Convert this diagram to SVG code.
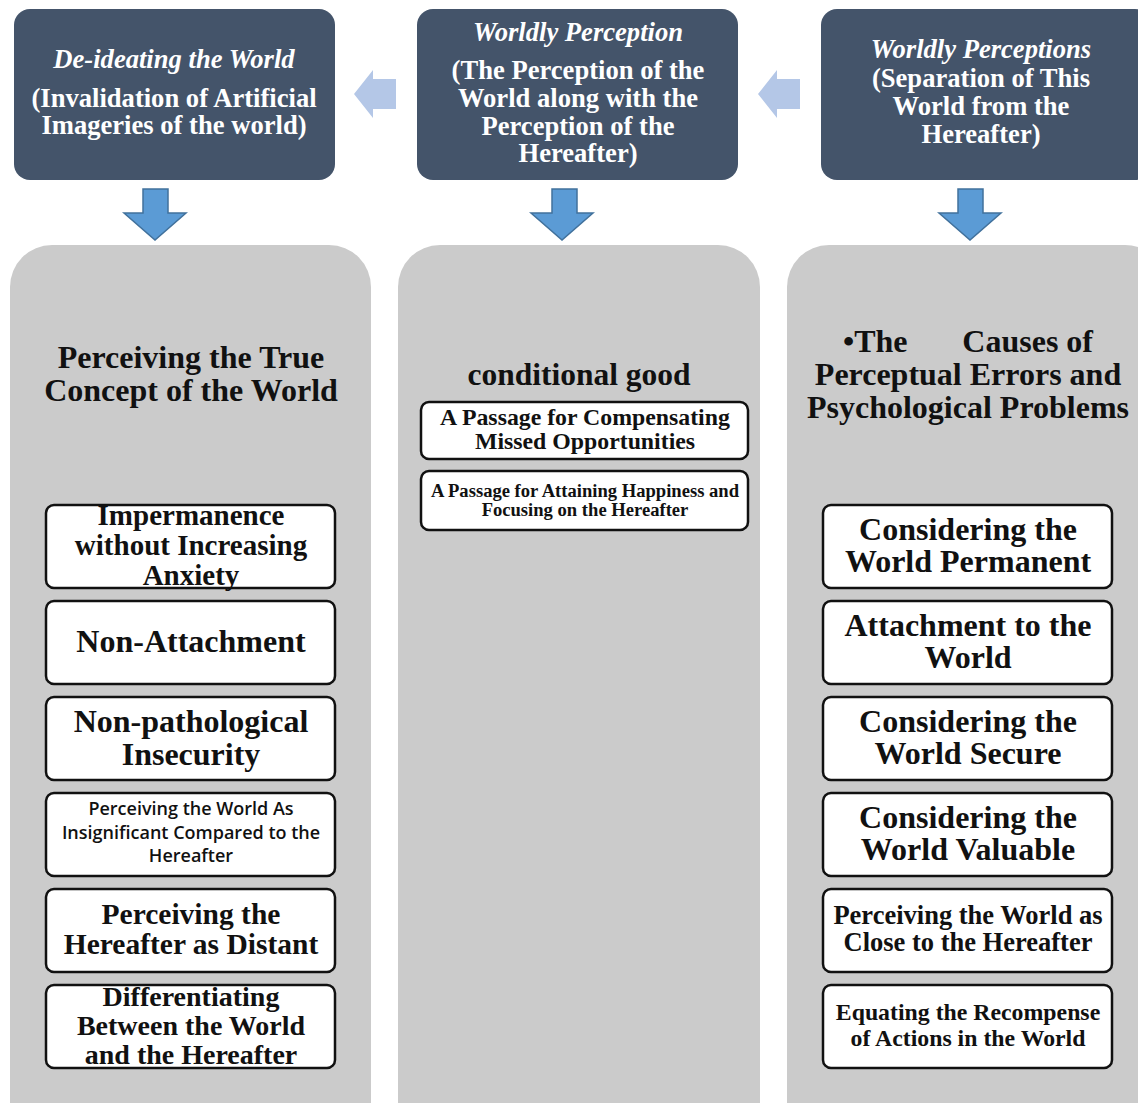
<svg xmlns="http://www.w3.org/2000/svg" width="1138" height="1103" viewBox="0 0 1138 1103">
<style>
.hdr{fill:#44546a}
.panel{fill:#cbcbcb}
.box{fill:#fff;stroke:#111;stroke-width:2.5}
.ht{font-family:"Liberation Serif",serif;font-weight:bold;fill:#fff;text-anchor:middle;font-size:26.6px}
.hi{font-style:italic}
.t{font-family:"Liberation Serif",serif;font-weight:bold;fill:#111;text-anchor:middle}
.s{font-family:"Open Sans","Liberation Sans",sans-serif;font-weight:600;fill:#111;text-anchor:middle}
.la{fill:#b4c7e7}
.da{fill:#5b9bd5;stroke:#41719c;stroke-width:1.5}
</style>
<rect width="1138" height="1103" fill="#fff"/>
<g id="header-1"><rect class="hdr" x="14" y="9" width="321" height="171" rx="16"/>
<text class="ht"><tspan class="hi" x="174" y="68">De-ideating the World</tspan><tspan x="174" y="107">(Invalidation of Artificial</tspan><tspan x="174" y="134">Imageries of the world)</tspan></text></g>
<g id="header-2"><rect class="hdr" x="417" y="9" width="321" height="171" rx="16"/>
<text class="ht"><tspan class="hi" x="578" y="41">Worldly Perception</tspan><tspan x="578" y="79">(The Perception of the</tspan><tspan x="578" y="107">World along with the</tspan><tspan x="578" y="135">Perception of the</tspan><tspan x="578" y="162">Hereafter)</tspan></text></g>
<g id="header-3"><rect class="hdr" x="821" y="9" width="330" height="171" rx="16"/>
<text class="ht"><tspan class="hi" x="981" y="58">Worldly Perceptions</tspan><tspan x="981" y="87">(Separation of This</tspan><tspan x="981" y="115">World from the</tspan><tspan x="981" y="143">Hereafter)</tspan></text></g>
<g id="connectors">
<polygon class="la" points="354,94 373,70 373,79 396,79 396,109 373,109 373,118"/>
<polygon class="la" points="758,94 777,70 777,79 800,79 800,109 777,109 777,118"/>
<polygon class="da" points="143,189 168,189 168,213 186,213 155,240 124,213 143,213"/>
<polygon class="da" points="552,189 577,189 577,213 593,213 562,240 531,213 552,213"/>
<polygon class="da" points="958,189 983,189 983,213 1001,213 970,240 939,213 958,213"/>
</g>
<g id="panel-left"><rect class="panel" x="10" y="245" width="361" height="900" rx="42"/>
<text class="t" font-size="32"><tspan x="191" y="368">Perceiving the True</tspan><tspan x="191" y="401">Concept of the World</tspan></text></g>
<g id="panel-middle"><rect class="panel" x="398" y="245" width="362" height="900" rx="42"/>
<text class="t" font-size="31.5" x="579" y="385">conditional good</text></g>
<g id="panel-right"><rect class="panel" x="787" y="245" width="380" height="900" rx="42"/>
<text class="t" font-size="32"><tspan x="843" y="352" text-anchor="start">•The</tspan><tspan x="1093" y="352" text-anchor="end">Causes of</tspan><tspan x="968" y="385">Perceptual Errors and</tspan><tspan x="968" y="418">Psychological Problems</tspan></text></g>
<g id="l1"><rect class="box" x="46" y="505" width="289" height="83" rx="8"/><text class="t" font-size="29"><tspan x="191" y="525">Impermanence</tspan><tspan x="191" y="555">without Increasing</tspan><tspan x="191" y="585">Anxiety</tspan></text></g>
<g id="l2"><rect class="box" x="46" y="601" width="289" height="83" rx="8"/><text class="t" font-size="32" x="191" y="652">Non-Attachment</text></g>
<g id="l3"><rect class="box" x="46" y="697" width="289" height="83" rx="8"/><text class="t" font-size="32"><tspan x="191" y="732">Non-pathological</tspan><tspan x="191" y="765">Insecurity</tspan></text></g>
<g id="l4"><rect class="box" x="46" y="793" width="289" height="83" rx="8"/><text class="s" font-size="18"><tspan x="191" y="815">Perceiving the World As</tspan><tspan x="191" y="839">Insignificant Compared to the</tspan><tspan x="191" y="862">Hereafter</tspan></text></g>
<g id="l5"><rect class="box" x="46" y="889" width="289" height="83" rx="8"/><text class="t" font-size="29.5"><tspan x="191" y="924">Perceiving the</tspan><tspan x="191" y="954">Hereafter as Distant</tspan></text></g>
<g id="l6"><rect class="box" x="46" y="985" width="289" height="83" rx="8"/><text class="t" font-size="28"><tspan x="191" y="1006">Differentiating</tspan><tspan x="191" y="1035">Between the World</tspan><tspan x="191" y="1064">and the Hereafter</tspan></text></g>
<g id="m1"><rect class="box" x="421" y="402" width="327" height="57" rx="8"/><text class="t" font-size="23.8"><tspan x="585" y="425">A Passage for Compensating</tspan><tspan x="585" y="449">Missed Opportunities</tspan></text></g>
<g id="m2"><rect class="box" x="421" y="471" width="327" height="59" rx="8"/><text class="t" font-size="18.6"><tspan x="585" y="497">A Passage for Attaining Happiness and</tspan><tspan x="585" y="516">Focusing on the Hereafter</tspan></text></g>
<g id="r1"><rect class="box" x="823" y="505" width="289" height="83" rx="8"/><text class="t" font-size="32"><tspan x="968" y="540">Considering the</tspan><tspan x="968" y="572">World Permanent</tspan></text></g>
<g id="r2"><rect class="box" x="823" y="601" width="289" height="83" rx="8"/><text class="t" font-size="32"><tspan x="968" y="636">Attachment to the</tspan><tspan x="968" y="668">World</tspan></text></g>
<g id="r3"><rect class="box" x="823" y="697" width="289" height="83" rx="8"/><text class="t" font-size="32"><tspan x="968" y="732">Considering the</tspan><tspan x="968" y="764">World Secure</tspan></text></g>
<g id="r4"><rect class="box" x="823" y="793" width="289" height="83" rx="8"/><text class="t" font-size="32"><tspan x="968" y="828">Considering the</tspan><tspan x="968" y="860">World Valuable</tspan></text></g>
<g id="r5"><rect class="box" x="823" y="889" width="289" height="83" rx="8"/><text class="t" font-size="26.5"><tspan x="968" y="924">Perceiving the World as</tspan><tspan x="968" y="951">Close to the Hereafter</tspan></text></g>
<g id="r6"><rect class="box" x="823" y="985" width="289" height="83" rx="8"/><text class="t" font-size="23.8"><tspan x="968" y="1020">Equating the Recompense</tspan><tspan x="968" y="1046">of Actions in the World</tspan></text></g>
</svg>
